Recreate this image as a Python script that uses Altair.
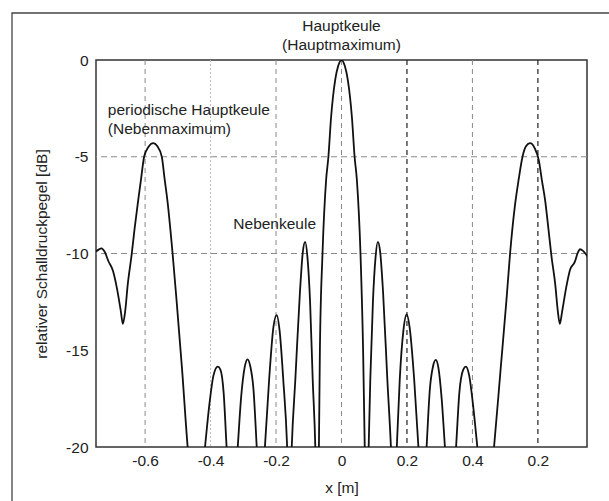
import altair as alt
import pandas as pd

# ---- curve values (x in m, level in dB) ----
X = [-0.750, -0.742, -0.733, -0.724, -0.712, -0.698, -0.686, -0.674, -0.668, -0.661,
     -0.653, -0.641, -0.632, -0.621, -0.612, -0.603, -0.590, -0.575, -0.563, -0.549,
     -0.540, -0.532, -0.516, -0.504, -0.487, -0.470, -0.443, -0.417, -0.405, -0.391,
     -0.378, -0.370, -0.360, -0.351, -0.334, -0.317, -0.307, -0.296, -0.287, -0.279,
     -0.269, -0.259, -0.247, -0.234, -0.221, -0.208, -0.198, -0.189, -0.178, -0.166,
     -0.159, -0.152, -0.141, -0.127, -0.118, -0.111, -0.104, -0.096, -0.088, -0.080,
     -0.075, -0.069, -0.066, -0.058, -0.047, -0.040, -0.032, -0.019, -0.010, 0.000,
     0.010, 0.019, 0.032, 0.040, 0.047, 0.058, 0.066, 0.071, 0.077, 0.083,
     0.088, 0.096, 0.104, 0.111, 0.118, 0.127, 0.140, 0.151, 0.160, 0.169,
     0.178, 0.189, 0.199, 0.208, 0.222, 0.235, 0.248, 0.260, 0.270, 0.280,
     0.288, 0.296, 0.306, 0.316, 0.333, 0.350, 0.360, 0.372, 0.380, 0.390,
     0.403, 0.415, 0.440, 0.466, 0.486, 0.504, 0.515, 0.530, 0.541, 0.553,
     0.564, 0.576, 0.590, 0.603, 0.612, 0.622, 0.632, 0.641, 0.653, 0.661,
     0.667, 0.674, 0.686, 0.698, 0.713, 0.722, 0.729, 0.737, 0.745, 0.752]
Y = [-9.90, -9.80, -9.73, -9.90, -10.40, -10.90, -11.80, -13.00, -13.64, -13.00,
     -11.60, -10.05, -8.70, -7.24, -6.10, -5.00, -4.50, -4.30, -4.45, -5.00,
     -6.20, -7.24, -10.00, -12.40, -16.00, -20.00, -24.00, -20.00, -18.00, -16.30,
     -15.85, -16.00, -17.20, -20.00, -24.00, -20.00, -17.50, -15.90, -15.47, -15.80,
     -17.00, -20.00, -24.00, -20.00, -16.50, -13.80, -13.18, -14.00, -16.50, -20.00,
     -24.00, -20.00, -16.50, -12.00, -9.90, -9.40, -10.20, -12.50, -16.50, -20.00,
     -24.00, -20.00, -15.00, -10.00, -6.20, -5.00, -3.00, -1.00, -0.30, 0.00,
     -0.30, -1.00, -3.00, -5.00, -6.20, -10.00, -15.00, -20.00, -24.00, -20.00,
     -16.50, -12.50, -10.20, -9.40, -9.90, -12.00, -16.50, -20.00, -24.00, -20.00,
     -16.50, -14.00, -13.15, -13.80, -16.50, -20.00, -24.00, -20.00, -17.00, -15.80,
     -15.50, -15.90, -17.50, -20.00, -24.00, -20.00, -17.20, -16.00, -15.85, -16.30,
     -18.00, -20.00, -24.00, -20.00, -16.00, -12.40, -10.00, -7.50, -6.20, -5.00,
     -4.45, -4.30, -4.55, -5.20, -6.20, -7.24, -8.70, -10.08, -11.60, -13.00,
     -13.64, -13.00, -11.80, -10.85, -10.42, -9.95, -9.78, -9.85, -10.00, -10.16]

X_TICKS = [-0.6, -0.4, -0.2, 0.0, 0.2, 0.4, 0.6]
Y_TICKS = [0, -5, -10, -15, -20]
GRID_X_DARK = [0.2, 0.6]
GRID_X_GRAY = [-0.6, -0.2, 0.0, 0.4]
GRID_X_LIGHT = [-0.4]
GRID_Y = [-5, -10]

ANN_CENTER_TEXT = ["Hauptkeule", "(Hauptmaximum)"]
ANN_CENTER_X = [0.0, 0.0]
ANN_CENTER_Y = [1.76, 0.79]
ANN_LEFT_TEXT = ["periodische Hauptkeule", "(Nebenmaximum)", "Nebenkeule"]
ANN_LEFT_X = [-0.714, -0.714, -0.3305]
ANN_LEFT_Y = [-2.58, -3.58, -8.48]

FONT = "Liberation Sans"
FS = 15.5

xscale = alt.Scale(domain=[-0.75, 0.75], nice=False, zero=False)
yscale = alt.Scale(domain=[-20, 0], nice=False, zero=False)

X_AXIS = alt.Axis(values=X_TICKS, grid=False, ticks=False, domain=False,
                  labelExpr="datum.value == 0.6 ? '0.2' : toString(datum.value)",
                  labelPadding=6, titlePadding=12)
Y_AXIS = alt.Axis(values=Y_TICKS, grid=False, ticks=False, domain=False,
                  labelExpr="toString(datum.value)",
                  labelPadding=8, titlePadding=16)
X_TITLE = "x [m]"
Y_TITLE = "relativer Schalldruckpegel [dB]"

def xenc(field):
    return alt.X(field, scale=xscale, axis=X_AXIS, title=X_TITLE)

def yenc(field):
    return alt.Y(field, scale=yscale, axis=Y_AXIS, title=Y_TITLE)

curve = pd.DataFrame({"x": X, "y": Y})

def vgrid(vals, color, dash, width):
    return alt.Chart(pd.DataFrame({"g": vals})).mark_rule(
        color=color, strokeDash=dash, strokeWidth=width
    ).encode(x=xenc("g:Q"))

grid_dark = vgrid(GRID_X_DARK, "#222222", [5, 4], 1.2)
grid_gray = vgrid(GRID_X_GRAY, "#8a8a8a", [5, 4], 1.0)
grid_light = vgrid(GRID_X_LIGHT, "#bbbbbb", [2, 2], 1.0)
grid_h = alt.Chart(pd.DataFrame({"g": GRID_Y})).mark_rule(
    color="#8a8a8a", strokeDash=[6, 4], strokeWidth=1.0
).encode(y=yenc("g:Q"))

line = alt.Chart(curve).mark_line(
    color="#111111", strokeWidth=1.8, interpolate="monotone", clip=True
).encode(
    x=xenc("x:Q"),
    y=yenc("y:Q"),
    order=alt.Order("x:Q"),
)

ann_c = alt.Chart(pd.DataFrame({"t": ANN_CENTER_TEXT, "x": ANN_CENTER_X, "y": ANN_CENTER_Y})).mark_text(
    align="center", baseline="middle", font=FONT, fontSize=FS, color="#222222"
).encode(x=xenc("x:Q"), y=yenc("y:Q"), text="t:N")

ann_l = alt.Chart(pd.DataFrame({"t": ANN_LEFT_TEXT, "x": ANN_LEFT_X, "y": ANN_LEFT_Y})).mark_text(
    align="left", baseline="middle", font=FONT, fontSize=FS, color="#222222"
).encode(x=xenc("x:Q"), y=yenc("y:Q"), text="t:N")

frame = alt.Chart(alt.Data(values=[{"a": 1}])).mark_rect(
    filled=False, stroke="#444444", strokeWidth=1.3
).encode(x=alt.value(-84), x2=alt.value(600), y=alt.value(-47), y2=alt.value(500))

chart = alt.layer(
    grid_light, grid_gray, grid_dark, grid_h, line, ann_c, ann_l, frame
).properties(
    width=491, height=387,
    autosize=alt.AutoSizeParams(type="none"),
    padding={"left": 96, "top": 60, "right": 22, "bottom": 54},
    background="white",
).configure_view(
    stroke="#333333", strokeWidth=1.5
).configure_axis(
    labelFont=FONT, titleFont=FONT, labelFontSize=FS, titleFontSize=FS,
    labelColor="#222222", titleColor="#222222", titleFontWeight="normal",
)

chart.save("out.html", embed_options={"renderer": "svg", "actions": False})
